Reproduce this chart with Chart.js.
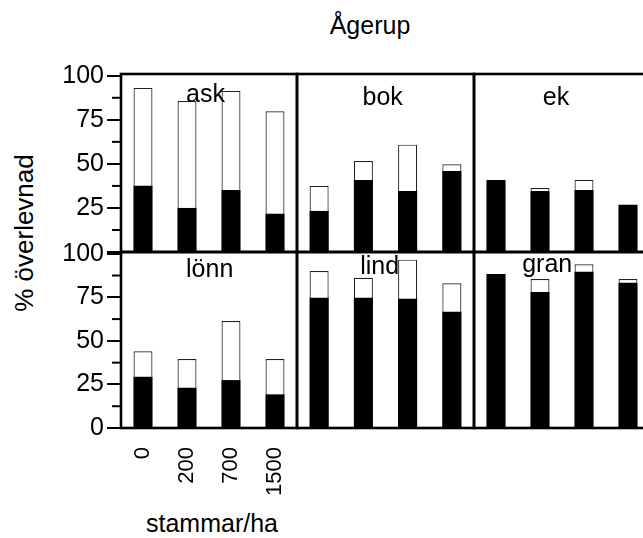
<!DOCTYPE html>
<html>
<head>
<meta charset="utf-8">
<script src="https://cdn.jsdelivr.net/npm/chart.js@4.4.0/dist/chart.umd.min.js"></script>
<style>
  html, body { margin: 0; padding: 0; background: #fff; overflow: hidden; }
  body { width: 643px; height: 538px; position: relative; font-family: "Liberation Sans", Arial, sans-serif; }
  .panel { position: absolute; }
  .txt { position: absolute; font-size: 25px; line-height: 25px; white-space: nowrap; color: #000; text-align: center; width: 200px; }
</style>
</head>
<body>
<div class="txt" style="left:270px; top:13px;">Ågerup</div>
<div class="txt" style="left:-76px; top:220px; font-size:26px; line-height:26px; transform:rotate(-90deg);">% överlevnad</div>
<div class="txt" style="left:112px; top:511px;">stammar/ha</div>
<script>
// stamtäthet (x-axel)
const stammar = ['0', '200', '700', '1500'];
const tradslag = ['ask', 'bok', 'ek', 'lönn', 'lind', 'gran'];

// svart del och total stapelhöjd (%)
const askBlack = [37.6, 25.0, 35.2, 21.7];
const askTotal = [93.1, 85.7, 91.4, 79.9];
const bokBlack = [23.3, 40.9, 34.6, 46.0];
const bokTotal = [37.5, 51.6, 60.9, 49.8];
const ekBlack = [40.9, 34.6, 35.2, 26.8];
const ekTotal = [40.9, 36.3, 40.9, 26.8];
const lonnBlack = [29.4, 23.1, 27.5, 19.3];
const lonnTotal = [44.0, 39.6, 61.4, 39.6];
const lindBlack = [74.8, 74.8, 74.2, 66.7];
const lindTotal = [90.1, 86.2, 96.6, 83.0];
const granBlack = [88.4, 78.0, 89.7, 83.4];
const granTotal = [88.4, 85.5, 93.9, 85.5];

const yTicks = [0, 25, 50, 75, 100];
const yMinor = [12.5, 37.5, 62.5, 87.5];

// panelernas läge på sidan
const colX = [121, 297, 474, 650];
const rowY = [74, 252, 428];
// namnets mitt (x) och baslinje (y) relativt panelens övre vänstra hörn
const labelPos = [[84.5, 28], [85.7, 31], [82, 31], [88.7, 25], [82.7, 21.5], [73.2, 20]];

Chart.defaults.font.family = '"Liberation Sans", Arial, sans-serif';
Chart.defaults.color = '#000';

const panelPlugin = {
  id: 'panel',
  afterDatasetsDraw(chart, args, opts) {
    const ctx = chart.ctx;
    const a = chart.chartArea;
    const y = chart.scales.y;
    ctx.save();
    ctx.fillStyle = '#000';
    ctx.font = '25px "Liberation Sans", Arial, sans-serif';
    ctx.textAlign = 'center';
    ctx.textBaseline = 'alphabetic';
    ctx.fillText(opts.label, a.left + opts.pos[0], a.top + opts.pos[1]);
    ctx.strokeStyle = '#000';
    ctx.lineWidth = 2.6;
    ctx.strokeRect(a.left, a.top, a.right - a.left, a.bottom - a.top);
    if (opts.minor) {
      ctx.lineWidth = 2;
      yMinor.forEach(v => {
        const py = y.getPixelForValue(v);
        ctx.beginPath();
        ctx.moveTo(a.left - 9, py);
        ctx.lineTo(a.left, py);
        ctx.stroke();
      });
    }
    ctx.restore();
  }
};

function makePanel(i, black, total) {
  const col = i % 3, row = Math.floor(i / 3);
  const left = colX[col], right = colX[col + 1], top = rowY[row], bottom = rowY[row + 1];
  const showY = col === 0;
  const showX = col === 0 && row === 1;
  const padL = showY ? 121 : 4, padT = showY ? 20 : 4, padR = 4, padB = showX ? 110 : 4;

  const box = document.createElement('div');
  box.className = 'panel';
  box.style.left = (left - padL) + 'px';
  box.style.top = (top - padT) + 'px';
  box.style.width = (right - left + padL + padR) + 'px';
  box.style.height = (bottom - top + padT + padB) + 'px';
  const canvas = document.createElement('canvas');
  box.appendChild(canvas);
  document.body.appendChild(box);

  new Chart(canvas, {
    type: 'bar',
    data: {
      labels: stammar,
      datasets: [
        { data: black, backgroundColor: '#000', borderWidth: 0, grouped: false },
        { data: total, backgroundColor: '#fff', borderColor: '#222', borderWidth: 1.2, grouped: false }
      ]
    },
    options: {
      responsive: true,
      maintainAspectRatio: false,
      animation: false,
      devicePixelRatio: 1,
      events: [],
      layout: { padding: { left: showY ? 0 : padL, top: padT, right: padR, bottom: showX ? 0 : padB } },
      datasets: { bar: { categoryPercentage: 1, barPercentage: 0.43 } },
      plugins: {
        legend: { display: false },
        tooltip: { enabled: false },
        panel: { label: tradslag[i], pos: labelPos[i], minor: showY }
      },
      scales: {
        x: {
          display: showX,
          offset: true,
          grid: { display: false, drawTicks: false },
          border: { display: false },
          ticks: { minRotation: 90, maxRotation: 90, autoSkip: false, padding: 19, color: '#000', font: { size: 22 } },
          afterFit: s => { if (showX) { s.height = 110; s.paddingLeft = 0; s.paddingRight = 0; } }
        },
        y: {
          display: showY,
          min: 0,
          max: 101,
          grid: { drawOnChartArea: false, drawTicks: true, tickLength: 14, color: '#000', lineWidth: 2 },
          border: { display: false },
          afterBuildTicks: s => { s.ticks = yTicks.map(v => ({ value: v })); },
          ticks: {
            padding: 3,
            color: '#000',
            font: { size: 25 },
            callback: v => (row === 0 && v === 0) ? '' : String(v)
          },
          afterFit: s => { if (showY) { s.width = 121; s.paddingTop = 0; s.paddingBottom = 0; } }
        }
      }
    },
    plugins: [panelPlugin]
  });
}

makePanel(0, askBlack, askTotal);
makePanel(1, bokBlack, bokTotal);
makePanel(2, ekBlack, ekTotal);
makePanel(3, lonnBlack, lonnTotal);
makePanel(4, lindBlack, lindTotal);
makePanel(5, granBlack, granTotal);
</script>
</body>
</html>
